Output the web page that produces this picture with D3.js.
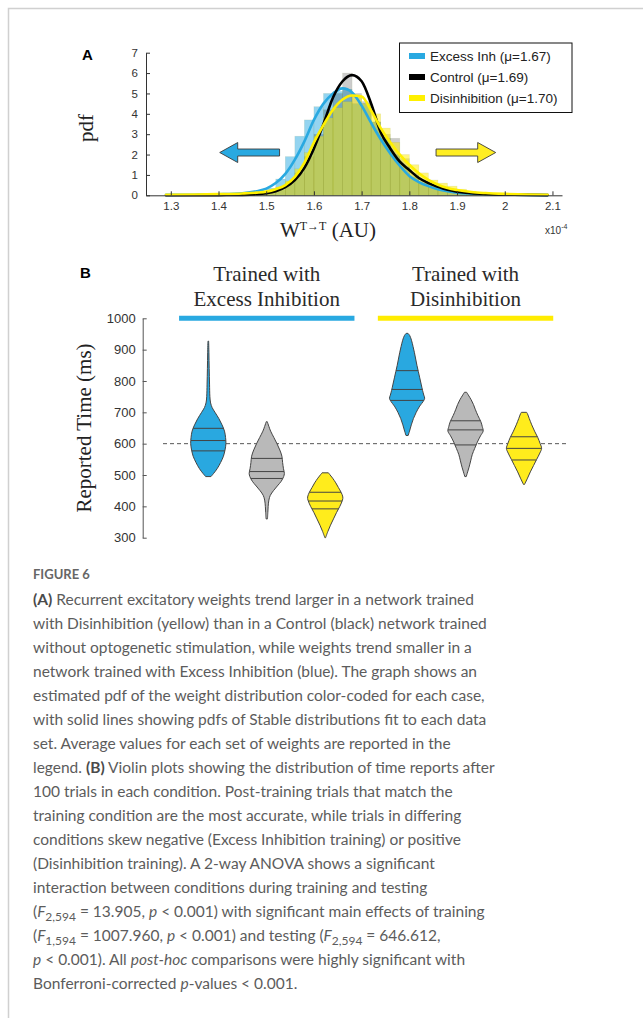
<!DOCTYPE html>
<html>
<head>
<meta charset="utf-8">
<script src="https://cdn.jsdelivr.net/npm/d3@7"></script>
<style>
  body { margin: 0; background: #fff; }
  svg { display: block; }
</style>
</head>
<body>
<svg id="fig" width="643" height="1018"></svg>
<script>
// ---------- Panel A: weight histograms (pdf-normalised), bin width 0.02 ----------
const binEdges = [1.48, 1.50, 1.52, 1.54, 1.56, 1.58, 1.60, 1.62, 1.64, 1.66, 1.68, 1.70,
                  1.72, 1.74, 1.76, 1.78, 1.80, 1.82, 1.84, 1.86, 1.88, 1.90, 1.92, 1.94];
const binWidth = 0.02;
const histExcess  = [0.15, 0.35, 0.8, 1.9, 2.9, 3.7, 4.35, 5.0, 5.1, 5.2, 4.5, 4.5,
                     3.6, 2.8, 2.0, 1.4, 0.9, 0.6, 0.4, 0.25, 0.15, 0.1, 0.05, 0.03];
const histControl = [0.05, 0.1, 0.25, 0.6, 1.1, 1.9, 3.0, 4.2, 5.0, 6.0, 5.0, 4.6,
                     3.6, 3.0, 2.8, 1.8, 1.1, 0.7, 0.5, 0.35, 0.2, 0.15, 0.08, 0.05];
const histDisinh  = [0.1, 0.2, 0.4, 0.7, 1.3, 2.1, 2.9, 3.8, 4.3, 4.6, 4.9, 4.5,
                     4.0, 3.3, 2.6, 2.0, 1.5, 1.1, 0.75, 0.6, 0.45, 0.3, 0.2, 0.12];

// Stable-distribution fits, sampled along the weight axis
const fitX       = [1.29, 1.35, 1.40, 1.45, 1.48, 1.50, 1.52, 1.54, 1.56, 1.58, 1.60, 1.62, 1.64, 1.66,
                    1.68, 1.70, 1.72, 1.74, 1.76, 1.78, 1.80, 1.82, 1.84, 1.86, 1.88, 1.90, 1.93, 1.96,
                    2.00, 2.05, 2.09];
const fitExcess  = [0.02, 0.03, 0.05, 0.1, 0.2, 0.33, 0.6, 1.05, 1.75, 2.65, 3.7, 4.5, 5.0, 5.25,
                    5.05, 4.4, 3.55, 2.75, 2.05, 1.45, 0.95, 0.65, 0.45, 0.3, 0.2, 0.13, 0.08, 0.05,
                    0.03, 0.02, 0.01];
const fitControl = [0.0, 0.0, 0.01, 0.02, 0.05, 0.1, 0.2, 0.4, 0.75, 1.35, 2.3, 3.5, 4.8, 5.6,
                    5.9, 5.6, 4.5, 3.1, 2.3, 1.65, 1.24, 0.85, 0.6, 0.42, 0.27, 0.18, 0.1, 0.06,
                    0.03, 0.02, 0.01];
const fitDisinh  = [0.03, 0.04, 0.06, 0.09, 0.13, 0.18, 0.3, 0.5, 0.9, 1.6, 2.6, 3.45, 4.2, 4.7,
                    4.9, 4.85, 4.15, 3.3, 2.6, 2.0, 1.5, 1.08, 0.76, 0.52, 0.36, 0.26, 0.16, 0.11,
                    0.07, 0.04, 0.03];

const legendLabels = ["Excess Inh (\u03bc=1.67)", "Control (\u03bc=1.69)", "Disinhibition (\u03bc=1.70)"];
const xTicksA = [1.3, 1.4, 1.5, 1.6, 1.7, 1.8, 1.9, 2.0, 2.1];
const yTicksA = [0, 1, 2, 3, 4, 5, 6, 7];

// ---------- Panel B: reported time violins ----------
const violinPos = [1, 2, 3, 4.4, 5.4, 6.4];
const violinKind = ["excess", "control", "disinh", "excess", "control", "disinh"];
// [reported time (ms), relative density]
const violin1 = [[495, 0.15], [505, 0.3], [520, 0.5], [540, 0.7], [560, 0.86], [580, 0.95], [600, 1.0],
                 [620, 0.98], [640, 0.92], [660, 0.78], [680, 0.6], [700, 0.38], [715, 0.22], [730, 0.13],
                 [750, 0.09], [790, 0.07], [840, 0.05], [890, 0.035], [927, 0.02]];
const violin2 = [[360, 0.04], [380, 0.06], [400, 0.08], [420, 0.12], [435, 0.2], [450, 0.38], [465, 0.6],
                 [480, 0.82], [495, 0.96], [505, 1.0], [520, 0.95], [540, 0.9], [560, 0.86], [580, 0.74],
                 [600, 0.58], [620, 0.4], [640, 0.22], [655, 0.12], [670, 0.03]];
const violin3 = [[300, 0.02], [320, 0.15], [340, 0.3], [360, 0.47], [380, 0.64], [400, 0.83], [420, 0.98],
                 [430, 1.0], [445, 0.9], [460, 0.75], [475, 0.6], [490, 0.42], [500, 0.28], [507, 0.18]];
const violin4 = [[626, 0.06], [640, 0.14], [660, 0.24], [680, 0.36], [700, 0.52], [720, 0.72], [735, 0.92],
                 [745, 1.0], [755, 0.95], [770, 0.88], [790, 0.8], [810, 0.72], [830, 0.64], [850, 0.56],
                 [870, 0.49], [890, 0.42], [910, 0.34], [930, 0.25], [945, 0.15], [952, 0.05]];
const violin5 = [[495, 0.04], [510, 0.12], [525, 0.2], [545, 0.29], [565, 0.38], [585, 0.52], [605, 0.67],
                 [625, 0.85], [640, 1.0], [655, 0.95], [670, 0.87], [690, 0.7], [710, 0.55], [725, 0.45],
                 [740, 0.32], [755, 0.16], [764, 0.06]];
const violin6 = [[470, 0.03], [490, 0.2], [510, 0.36], [530, 0.54], [550, 0.72], [570, 0.9], [585, 1.0],
                 [600, 0.92], [620, 0.78], [640, 0.6], [660, 0.44], [680, 0.3], [695, 0.2], [700, 0.15]];
const violinQuartiles = [[577, 610, 649], [489, 511, 553], [392, 417, 445],
                         [738, 773, 833], [596, 644, 673], [548, 585, 622]];
const targetTime = 600;
const yTicksB = [300, 400, 500, 600, 700, 800, 900, 1000];
const groupTitles = [["Trained with", "Excess Inhibition"], ["Trained with", "Disinhibition"]];
const groupCenter = [2, 5.4];
const groupSpan = [[0.5, 3.5], [3.9, 6.9]];

// ---------- Caption ----------
const captionTitle = "FIGURE 6";
const captionLines = [
  [["(A)", "b"], [" Recurrent excitatory weights trend larger in a network trained"]],
  [["with Disinhibition (yellow) than in a Control (black) network trained"]],
  [["without optogenetic stimulation, while weights trend smaller in a"]],
  [["network trained with Excess Inhibition (blue). The graph shows an"]],
  [["estimated pdf of the weight distribution color-coded for each case,"]],
  [["with solid lines showing pdfs of Stable distributions fit to each data"]],
  [["set. Average values for each set of weights are reported in the"]],
  [["legend. "], ["(B)", "b"], [" Violin plots showing the distribution of time reports after"]],
  [["100 trials in each condition. Post-training trials that match the"]],
  [["training condition are the most accurate, while trials in differing"]],
  [["conditions skew negative (Excess Inhibition training) or positive"]],
  [["(Disinhibition training). A 2-way ANOVA shows a significant"]],
  [["interaction between conditions during training and testing"]],
  [["("], ["F", "i"], ["2,594", "sub"], [" = 13.905, "], ["p", "i"], [" < 0.001) with significant main effects of training"]],
  [["("], ["F", "i"], ["1,594", "sub"], [" = 1007.960, "], ["p", "i"], [" < 0.001) and testing ("], ["F", "i"], ["2,594", "sub"], [" = 646.612,"]],
  [["p", "i"], [" < 0.001). All "], ["post-hoc", "i"], [" comparisons were highly significant with"]],
  [["Bonferroni-corrected "], ["p", "i"], ["-values < 0.001."]]
];

const colors = { excess: "#29a9e1", control: "#000000", disinh: "#fff000" };
const violinFill = { excess: "#29a8e0", control: "#b9b9b9", disinh: "#ffec1c" };
const sansFont = "'Liberation Sans', Arial, Helvetica, sans-serif";
const serifFont = "'Liberation Serif', 'Times New Roman', serif";

const svg = d3.select("#fig");

// page frame (left and top rules)
svg.append("path")
  .attr("d", "M8.5,1018V8.5H643")
  .attr("fill", "none").attr("stroke", "#d0d0d0").attr("stroke-width", 1.5);

// ===================== Panel A =====================
const xA = d3.scaleLinear().domain([1.248, 2.12]).range([146, 562]);
const yA = d3.scaleLinear().domain([0, 7]).range([195.3, 52.7]);
const gA = svg.append("g");

const histLayers = [
  { vals: histExcess, fill: colors.excess, op: 0.5 },
  { vals: histControl, fill: "#000", op: 0.2 },
  { vals: histDisinh, fill: "#ffec00", op: 0.5 }
];
histLayers.forEach(L => {
  gA.append("g").selectAll("rect").data(binEdges).join("rect")
    .attr("x", d => xA(d))
    .attr("width", d => xA(d + binWidth) - xA(d))
    .attr("y", (d, i) => yA(L.vals[i]))
    .attr("height", (d, i) => yA(0) - yA(L.vals[i]))
    .attr("fill", L.fill).attr("fill-opacity", L.op)
    .attr("stroke", "#6f8f3a").attr("stroke-opacity", 0.15).attr("stroke-width", 0.6);
});

const fitLine = d3.line().x((d, i) => xA(fitX[i])).y(d => yA(d)).curve(d3.curveMonotoneX);
[[fitExcess, colors.excess], [fitControl, colors.control], [fitDisinh, colors.disinh]].forEach(([vals, c]) => {
  gA.append("path").datum(vals).attr("d", fitLine)
    .attr("fill", "none").attr("stroke", c).attr("stroke-width", 2.6)
    .attr("stroke-linejoin", "round").attr("stroke-linecap", "round");
});

// axes
const axA_x = gA.append("g").attr("transform", `translate(0,${yA(0)})`)
  .call(d3.axisBottom(xA).tickValues(xTicksA).tickFormat(d3.format(".1~f"))
    .tickSize(-4).tickSizeOuter(0).tickPadding(7));
const axA_y = gA.append("g").attr("transform", `translate(${xA.range()[0]},0)`)
  .call(d3.axisLeft(yA).tickValues(yTicksA).tickFormat(d3.format("d"))
    .tickSize(-4).tickSizeOuter(0).tickPadding(8));
[axA_x, axA_y].forEach(ax => {
  ax.select(".domain").attr("stroke", "#333").attr("stroke-width", 1);
  ax.selectAll(".tick line").attr("stroke", "#333");
  ax.selectAll("text").attr("fill", "#333").style("font-family", sansFont).style("font-size", "11.5px");
});

// direction arrows
function arrow(xTail, xTip, yv, fill) {
  const t = xA(xTail), p = xA(xTip), cy = yA(yv);
  const dir = Math.sign(p - t), headLen = 18, headHalf = 10, shaft = 3.5;
  const hb = p - dir * headLen;
  const pts = [[t, cy - shaft], [hb, cy - shaft], [hb, cy - headHalf], [p, cy],
               [hb, cy + headHalf], [hb, cy + shaft], [t, cy + shaft]];
  gA.append("path").attr("d", d3.line()(pts) + "Z")
    .attr("fill", fill).attr("stroke", "#3a3a3a").attr("stroke-width", 0.9).attr("stroke-linejoin", "miter");
}
arrow(1.528, 1.4025, 2.1, colors.excess);
arrow(1.856, 1.981, 2.1, "#ffee22");

// legend
const lg = gA.append("g");
lg.append("rect").attr("x", 399.5).attr("y", 43).attr("width", 172.5).attr("height", 69.5)
  .attr("fill", "#fff").attr("stroke", "#111").attr("stroke-width", 1);
legendLabels.forEach((lab, i) => {
  const cy = 56 + i * 21;
  lg.append("rect").attr("x", 409).attr("y", cy - 3).attr("width", 16).attr("height", 6)
    .attr("fill", [colors.excess, colors.control, colors.disinh][i]);
  lg.append("text").attr("x", 430).attr("y", cy + 4.6).text(lab)
    .attr("fill", "#222").style("font-family", sansFont).style("font-size", "13.5px");
});

// labels
gA.append("text").attr("x", 82).attr("y", 60).text("A")
  .style("font-family", sansFont).style("font-weight", "bold").style("font-size", "15px");
gA.append("text").attr("transform", "translate(93,128) rotate(-90)").attr("text-anchor", "middle")
  .text("pdf").style("font-family", serifFont).style("font-size", "21px").attr("fill", "#222");
const xl = gA.append("text").attr("x", 328).attr("y", 237).attr("text-anchor", "middle")
  .style("font-family", serifFont).style("font-size", "21px").attr("fill", "#222");
xl.append("tspan").text("W");
xl.append("tspan").attr("dy", -7).style("font-size", "12px").text("T\u2192T");
xl.append("tspan").attr("dy", 7).text(" (AU)");
const ex = gA.append("text").attr("x", 545).attr("y", 234)
  .style("font-family", sansFont).style("font-size", "10px").attr("fill", "#333");
ex.append("tspan").text("x10");
ex.append("tspan").attr("dy", -5).style("font-size", "7px").text("-4");

// ===================== Panel B =====================
const xB = d3.scaleLinear().domain([1, 6.4]).range([208.3, 524]);
const yB = d3.scaleLinear().domain([300, 1000]).range([537.7, 318.3]);
const wB = d3.scaleLinear().domain([0, 1]).range([0, 17.6]);
const gB = svg.append("g");

gB.append("text").attr("x", 80).attr("y", 278).text("B")
  .style("font-family", sansFont).style("font-weight", "bold").style("font-size", "15px");

// group titles and bars
groupTitles.forEach((lines, gi) => {
  const [a, b] = groupSpan[gi];
  const cx = xB(groupCenter[gi]);
  lines.forEach((ln, li) => {
    gB.append("text").attr("x", cx).attr("y", 281 + li * 25).attr("text-anchor", "middle").text(ln)
      .style("font-family", serifFont).style("font-size", "21px").attr("fill", "#2a2a2a");
  });
  gB.append("line")
    .attr("x1", xB(a)).attr("x2", xB(b))
    .attr("y1", yB(1000)).attr("y2", yB(1000))
    .attr("stroke", gi === 0 ? colors.excess : "#ffec00").attr("stroke-width", 5);
});

// reference line at the trained interval
gB.append("line").attr("x1", 163).attr("x2", 568).attr("y1", yB(targetTime)).attr("y2", yB(targetTime))
  .attr("stroke", "#444").attr("stroke-width", 0.9).attr("stroke-dasharray", "4,3");

// violins
const violins = [violin1, violin2, violin3, violin4, violin5, violin6];
violins.forEach((prof, i) => {
  const cx = xB(violinPos[i]);
  const area = d3.area()
    .y(d => yB(d[0]))
    .x0(d => cx - wB(d[1]))
    .x1(d => cx + wB(d[1]))
    .curve(d3.curveCatmullRom.alpha(0.5));
  gB.append("path").datum(prof).attr("d", area)
    .attr("fill", violinFill[violinKind[i]]).attr("stroke", "#444").attr("stroke-width", 1);
  const interp = v => {
    for (let k = 1; k < prof.length; k++) {
      if (v <= prof[k][0]) {
        const [v0, w0] = prof[k - 1], [v1, w1] = prof[k];
        return w0 + (w1 - w0) * (v - v0) / (v1 - v0);
      }
    }
    return prof[prof.length - 1][1];
  };
  violinQuartiles[i].forEach(q => {
    const hw = wB(interp(q));
    gB.append("line").attr("x1", cx - hw).attr("x2", cx + hw).attr("y1", yB(q)).attr("y2", yB(q))
      .attr("stroke", "#444").attr("stroke-width", 1);
  });
});

// y axis
const axB = gB.append("g").attr("transform", "translate(142.7,0)")
  .call(d3.axisLeft(yB).tickValues(yTicksB).tickFormat(d3.format("d"))
    .tickSize(-4).tickSizeOuter(0).tickPadding(7));
axB.select(".domain").attr("stroke", "#555");
axB.selectAll(".tick line").attr("stroke", "#555");
axB.selectAll("text").attr("fill", "#333").style("font-family", sansFont).style("font-size", "13px");
gB.append("text").attr("transform", "translate(91,428) rotate(-90)").attr("text-anchor", "middle")
  .text("Reported Time (ms)").style("font-family", serifFont).style("font-size", "21px").attr("fill", "#222");

// ===================== Caption =====================
const capFont = "Lato, 'Open Sans', sans-serif";
const cap = svg.append("g");
cap.append("text").attr("x", 33).attr("y", 579).text(captionTitle)
  .style("font-family", capFont).style("font-size", "13px").style("font-weight", "bold").attr("fill", "#666");
captionLines.forEach((segs, li) => {
  const t = cap.append("text").attr("x", 33).attr("y", 605 + li * 24)
    .style("font-family", capFont).style("font-size", "15.5px").attr("fill", "#5c5c5c");
  let shifted = false;
  segs.forEach(([s, st]) => {
    const sp = t.append("tspan").text(s);
    if (st === "b") sp.style("font-weight", "bold").attr("fill", "#4a4a4a");
    if (st === "i") sp.style("font-style", "italic");
    if (st === "sub") { sp.attr("dy", 4).style("font-size", "12px"); shifted = true; }
    else if (shifted) { sp.attr("dy", -4); shifted = false; }
  });
});
</script>
</body>
</html>
